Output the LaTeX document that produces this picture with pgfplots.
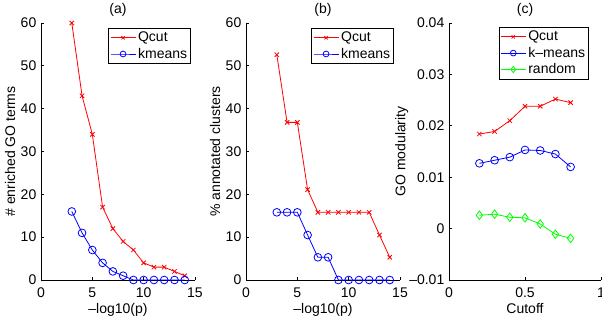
\documentclass[border=0pt]{standalone}
\usepackage{fontspec}
\setmainfont{Liberation Sans}
\usepackage{pgfplots}
\pgfplotsset{compat=1.18}
\pgfplotsset{
  mstyle/.style={
    scale only axis,
    axis lines*=left,
    tick align=inside,
    major tick length=2.5pt,
    axis line style={line width=0.5pt},
    every tick/.style={line width=0.5pt, black},
    x tick label style={yshift=-2pt},
    legend cell align=left,
    legend style={draw=black, line width=0.6pt, fill=white, inner xsep=1pt, inner ysep=1pt,
      nodes={inner sep=1.6pt}},
    legend image code/.code={\draw[mark repeat=2,mark phase=2,mark options={scale=0.75}] plot coordinates {(0cm,0cm)(0.33cm,0cm)(0.66cm,0cm)};},
    clip=false,
  },
  qc/.style={red, line width=0.6pt, mark=x, mark size=2.3pt, mark options={solid}},
  km/.style={blue, line width=0.6pt, mark=o, mark size=2.9pt},
  rn/.style={green, line width=0.6pt, mark=diamond, mark size=3.2pt},
  ttl/.style={title style={at={(axis description cs:0.5,1.039)}, anchor=base, yshift=-6.5pt}},
  xl/.style={xlabel style={at={(axis description cs:0.5,-0.1206)}, anchor=base, yshift=-2pt}},
}
\begin{document}
\begin{tikzpicture}[font=\fontsize{10.5}{12}\selectfont]
\useasboundingbox (0pt,0pt) rectangle (451.5pt,240pt);
% (a)
\begin{axis}[mstyle, ttl, xl, at={(30.75pt,30pt)}, anchor=south west, width=115.5pt, height=192.75pt,
  xmin=0, xmax=15, ymin=0, ymax=60,
  xtick={0,5,10,15}, xticklabels={0,5,10,15},
  ytick={0,10,20,30,40,50,60}, yticklabels={0,10,20,30,40,50,60},
  title={(a)},
  xlabel={\textendash log10(p)},
  ylabel={\# enriched GO terms}, ylabel style={at={(axis description cs:-0.2013,0.5)}, anchor=center},
  legend style={at={(axis description cs:0.974,0.9805)}, anchor=north east},
]
\addplot[qc] coordinates {(3,60)(4,43)(5,34)(6,17)(7,12)(8,9)(9,7)(10,4)(11,3)(12,3)(13,2)(14,1)};
\addlegendentry{Qcut}
\addplot[km] coordinates {(3,16)(4,11)(5,7)(6,4)(7,2)(8,1)(9,0)(10,0)(11,0)(12,0)(13,0)(14,0)};
\addlegendentry{kmeans}
\end{axis}
% (b)
\begin{axis}[mstyle, ttl, xl, at={(184.5pt,30pt)}, anchor=south west, width=115.5pt, height=192.75pt,
  xmin=0, xmax=15, ymin=0, ymax=60,
  xtick={0,5,10,15}, xticklabels={0,5,10,15},
  ytick={0,10,20,30,40,50,60}, yticklabels={0,10,20,30,40,50,60},
  title={(b)},
  xlabel={\textendash log10(p)},
  ylabel={\% annotated clusters}, ylabel style={at={(axis description cs:-0.2013,0.5)}, anchor=center},
  legend style={at={(axis description cs:0.961,0.9805)}, anchor=north east},
]
\addplot[qc] coordinates {(3,52.6)(4,36.8)(5,36.8)(6,21.1)(7,15.8)(8,15.8)(9,15.8)(10,15.8)(11,15.8)(12,15.8)(13,10.5)(14,5.3)};
\addlegendentry{Qcut}
\addplot[km] coordinates {(3,15.8)(4,15.8)(5,15.8)(6,10.5)(7,5.3)(8,5.3)(9,0)(10,0)(11,0)(12,0)(13,0)(14,0)};
\addlegendentry{kmeans}
\end{axis}
% (c)
\begin{axis}[mstyle, ttl, xl, at={(336.75pt,30pt)}, anchor=south west, width=114pt, height=192.75pt,
  xmin=0, xmax=1, ymin=-0.01, ymax=0.04,
  xtick={0,0.5,1}, xticklabels={0,0.5,1},
  ytick={-0.01,0,0.01,0.02,0.03,0.04}, yticklabels={\textendash0.01,0,0.01,0.02,0.03,0.04},
  scaled y ticks=false,
  title={(c)},
  xlabel={Cutoff},
  ylabel={GO modularity}, ylabel style={at={(axis description cs:-0.311,0.5)}, anchor=center},
  legend style={at={(axis description cs:0.921,0.984)}, anchor=north east},
]
\addplot[qc] coordinates {(0.2,0.0184)(0.3,0.0189)(0.4,0.0210)(0.5,0.0238)(0.6,0.0238)(0.7,0.0252)(0.8,0.0245)};
\addlegendentry{Qcut}
\addplot[km] coordinates {(0.2,0.0127)(0.3,0.0133)(0.4,0.0139)(0.5,0.0153)(0.6,0.0152)(0.7,0.0145)(0.8,0.0120)};
\addlegendentry{k\textendash means}
\addplot[rn] coordinates {(0.2,0.0026)(0.3,0.0028)(0.4,0.0022)(0.5,0.0021)(0.6,0.0009)(0.7,-0.0011)(0.8,-0.0019)};
\addlegendentry{random}
\end{axis}
\end{tikzpicture}
\end{document}
